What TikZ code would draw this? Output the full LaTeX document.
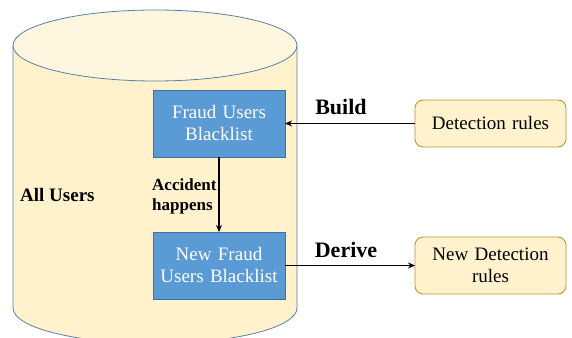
\documentclass[tikz,border=0pt]{standalone}
\usepackage{fontspec}
\setmainfont{Liberation Serif}
\usetikzlibrary{positioning,arrows.meta}
\definecolor{dbside}{HTML}{FFF2CC}
\definecolor{dbtop}{HTML}{FFF6E0}
\definecolor{dbline}{HTML}{5B7FA6}
\definecolor{listfill}{HTML}{5B9BD5}
\definecolor{listline}{HTML}{41719C}
\definecolor{rulefill}{HTML}{FFF2CC}
\definecolor{ruleline}{HTML}{BF9532}

\begin{document}
\begin{tikzpicture}[
  x=1pt,y=1pt,
  list/.style={
    rectangle,
    draw=listline,
    fill=listfill,
    text=white,
    text width=128pt,
    minimum width=132pt,
    minimum height=67pt,
    inner sep=0pt,
    outer sep=0pt,
    align=center,
    font=\fontsize{19}{22}\selectfont
  },
  rules/.style={
    rectangle,
    rounded corners=8pt,
    draw=ruleline,
    line width=0.9pt,
    fill=rulefill,
    text width=147pt,
    minimum width=151pt,
    inner sep=0pt,
    outer sep=0pt,
    align=center,
    font=\fontsize{19}{22}\selectfont
  },
  flow/.style ={line width=1.5pt,-{Stealth[length=7pt,width=6pt]}},
  lbl/.style ={font=\bfseries\fontsize{22}{24}\selectfont, inner sep=0pt}]
  \useasboundingbox (0,0) rectangle (572,337);
  % database body
  \fill[dbside] (13,291.5) -- (13,29) arc[start angle=180,end angle=360,x radius=142,y radius=35.5]
    -- (297,291.5) arc[start angle=0,end angle=180,x radius=142,y radius=35.5] -- cycle;
  \draw[dbline,line width=0.8pt] (13,291.5) -- (13,29) arc[start angle=180,end angle=360,x radius=142,y radius=35.5]
    -- (297,291.5);
  \draw[dbline,line width=0.8pt,fill=dbtop] (155,291.5) ellipse[x radius=142,y radius=35.5];
  \node[font=\bfseries\fontsize{19}{22}\selectfont, inner sep=0pt, anchor=west] (allusers) at (20,142) {All Users};
  % blacklists
  \node[list] (blacklist) at (219,213.5) {Fraud Users\\Blacklist};
  \node[list] (newblacklist) at (219,71.5) {New Fraud\\Users Blacklist};
  % rules
  \node[rules, minimum height=47pt] (detection) at (490.5,213.5) {Detection rules};
  \node[rules, minimum height=57pt] (newdetection) at (490.5,71.5) {New Detection\\rules};
  % connectors
  \draw[flow] (detection) -- node[lbl, above=8pt, xshift=-9pt] (build) {Build} (blacklist);
  \draw[flow] (newblacklist) -- node[lbl, above=7pt, xshift=-4pt] (derive) {Derive} (newdetection);
  \draw[flow] (blacklist) -- (newblacklist);
  \node[font=\bfseries\fontsize{17}{20}\selectfont, inner sep=0pt, anchor=west, align=left] (accident) at (152,141) {Accident\\happens};
\end{tikzpicture}
\end{document}
